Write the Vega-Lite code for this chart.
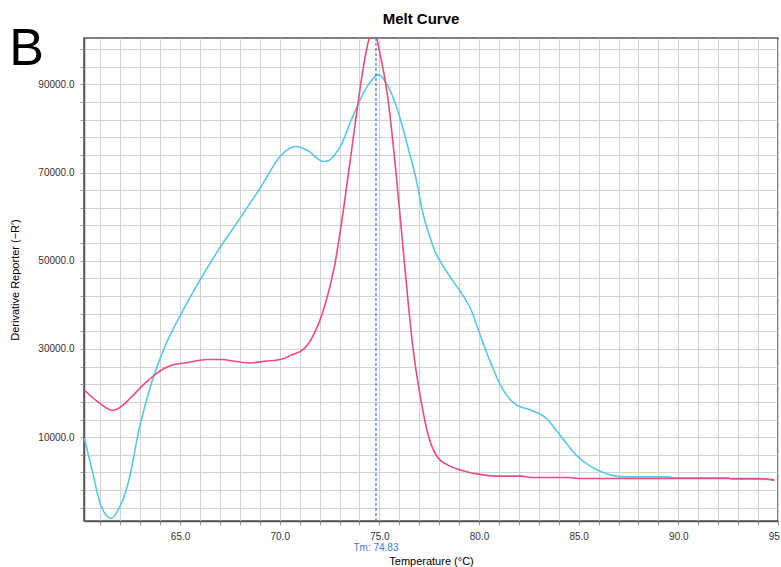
{
  "$schema": "https://vega.github.io/schema/vega-lite/v6.json",
  "width": 694,
  "height": 483,
  "autosize": {"type": "none"},
  "padding": {"left": 84, "top": 38, "right": 3, "bottom": 46},
  "background": "white",
  "title": {"text": "Melt Curve", "fontSize": 15, "fontWeight": "bold", "font": "Liberation Sans", "anchor": "middle", "offset": -4, "color": "#000", "dx": -10},
  "config": {
    "font": "Liberation Sans",
    "view": {"stroke": "#555", "strokeWidth": 1.5},
    "axis": {"gridColor": "#d2d2d2", "gridWidth": 1, "domainColor": "#555", "domainWidth": 1.5, "tickColor": "#999", "tickSize": 4, "labelColor": "#333", "labelFontSize": 10, "titleFontSize": 11, "titleFontWeight": "normal", "titleColor": "#000"}
  },
  "datasets": {
    "curves": [
      {"well": "cyan", "t": 60.2, "v": 9800},
      {"well": "cyan", "t": 60.6, "v": 2200},
      {"well": "cyan", "t": 61.05, "v": -5800},
      {"well": "cyan", "t": 61.55, "v": -8400},
      {"well": "cyan", "t": 61.97, "v": -5800},
      {"well": "cyan", "t": 62.39, "v": -490},
      {"well": "cyan", "t": 62.97, "v": 12330},
      {"well": "cyan", "t": 63.56, "v": 22160},
      {"well": "cyan", "t": 64.23, "v": 30450},
      {"well": "cyan", "t": 65.0, "v": 37500},
      {"well": "cyan", "t": 66.05, "v": 46000},
      {"well": "cyan", "t": 66.91, "v": 52350},
      {"well": "cyan", "t": 68.05, "v": 59900},
      {"well": "cyan", "t": 69.05, "v": 66700},
      {"well": "cyan", "t": 70.06, "v": 73870},
      {"well": "cyan", "t": 70.56, "v": 75600},
      {"well": "cyan", "t": 70.82, "v": 75900},
      {"well": "cyan", "t": 71.4, "v": 75000},
      {"well": "cyan", "t": 72.2, "v": 72500},
      {"well": "cyan", "t": 72.49, "v": 72800},
      {"well": "cyan", "t": 72.74, "v": 73900},
      {"well": "cyan", "t": 73.08, "v": 76200},
      {"well": "cyan", "t": 73.58, "v": 81800},
      {"well": "cyan", "t": 74.42, "v": 89700},
      {"well": "cyan", "t": 74.95, "v": 92200},
      {"well": "cyan", "t": 75.42, "v": 89700},
      {"well": "cyan", "t": 75.92, "v": 84060},
      {"well": "cyan", "t": 76.43, "v": 75750},
      {"well": "cyan", "t": 76.93, "v": 66700},
      {"well": "cyan", "t": 77.1, "v": 62500},
      {"well": "cyan", "t": 77.6, "v": 54500},
      {"well": "cyan", "t": 77.85, "v": 51500},
      {"well": "cyan", "t": 78.1, "v": 49500},
      {"well": "cyan", "t": 78.6, "v": 46000},
      {"well": "cyan", "t": 79.02, "v": 43300},
      {"well": "cyan", "t": 79.61, "v": 38770},
      {"well": "cyan", "t": 80.03, "v": 33490},
      {"well": "cyan", "t": 80.53, "v": 27440},
      {"well": "cyan", "t": 81.12, "v": 21390},
      {"well": "cyan", "t": 81.78, "v": 17630},
      {"well": "cyan", "t": 82.62, "v": 16100},
      {"well": "cyan", "t": 83.29, "v": 14600},
      {"well": "cyan", "t": 84.13, "v": 10070},
      {"well": "cyan", "t": 84.88, "v": 5900},
      {"well": "cyan", "t": 85.63, "v": 3270},
      {"well": "cyan", "t": 86.13, "v": 2140},
      {"well": "cyan", "t": 86.62, "v": 1400},
      {"well": "cyan", "t": 87.27, "v": 1000},
      {"well": "cyan", "t": 89.49, "v": 1000},
      {"well": "cyan", "t": 89.73, "v": 780},
      {"well": "cyan", "t": 92.5, "v": 780},
      {"well": "cyan", "t": 92.65, "v": 490},
      {"well": "cyan", "t": 94.0, "v": 490},
      {"well": "cyan", "t": 94.78, "v": 260},
      {"well": "pink", "t": 60.21, "v": 20650},
      {"well": "pink", "t": 60.88, "v": 18000},
      {"well": "pink", "t": 61.63, "v": 16100},
      {"well": "pink", "t": 62.06, "v": 17000},
      {"well": "pink", "t": 62.56, "v": 19100},
      {"well": "pink", "t": 63.14, "v": 21800},
      {"well": "pink", "t": 63.81, "v": 24430},
      {"well": "pink", "t": 64.57, "v": 26300},
      {"well": "pink", "t": 65.24, "v": 26830},
      {"well": "pink", "t": 66.41, "v": 27600},
      {"well": "pink", "t": 67.08, "v": 27600},
      {"well": "pink", "t": 67.75, "v": 27200},
      {"well": "pink", "t": 68.5, "v": 26830},
      {"well": "pink", "t": 69.25, "v": 27200},
      {"well": "pink", "t": 70.18, "v": 27800},
      {"well": "pink", "t": 70.56, "v": 28570},
      {"well": "pink", "t": 71.23, "v": 30090},
      {"well": "pink", "t": 71.73, "v": 33490},
      {"well": "pink", "t": 72.24, "v": 39510},
      {"well": "pink", "t": 72.74, "v": 48570},
      {"well": "pink", "t": 73.24, "v": 62930},
      {"well": "pink", "t": 73.74, "v": 79530},
      {"well": "pink", "t": 74.17, "v": 93120},
      {"well": "pink", "t": 74.5, "v": 100500},
      {"well": "pink", "t": 74.75, "v": 102000},
      {"well": "pink", "t": 75.0, "v": 97650},
      {"well": "pink", "t": 75.42, "v": 87080},
      {"well": "pink", "t": 75.84, "v": 69730},
      {"well": "pink", "t": 76.26, "v": 49340},
      {"well": "pink", "t": 76.68, "v": 30450},
      {"well": "pink", "t": 77.1, "v": 18000},
      {"well": "pink", "t": 77.43, "v": 10830},
      {"well": "pink", "t": 77.85, "v": 5900},
      {"well": "pink", "t": 78.44, "v": 3660},
      {"well": "pink", "t": 79.1, "v": 2530},
      {"well": "pink", "t": 79.94, "v": 1620},
      {"well": "pink", "t": 80.95, "v": 1170},
      {"well": "pink", "t": 82.12, "v": 1170},
      {"well": "pink", "t": 82.62, "v": 870},
      {"well": "pink", "t": 84.47, "v": 870},
      {"well": "pink", "t": 84.97, "v": 650},
      {"well": "pink", "t": 94.03, "v": 650},
      {"well": "pink", "t": 94.83, "v": 260}
    ],
    "tm": [{"tm": 74.83, "label": "Tm: 74.83"}],
    "panel": [{"label": "B"}]
  },
  "layer": [
    {
      "data": {"name": "curves"},
      "mark": {"type": "line", "interpolate": "monotone", "strokeWidth": 1.6, "clip": true},
      "encoding": {
        "x": {
          "field": "t", "type": "quantitative",
          "scale": {"domain": [60.18, 95.0], "nice": false, "zero": false},
          "axis": {
            "title": "Temperature (°C)",
            "values": [61,62,63,64,65,66,67,68,69,70,71,72,73,74,75,76,77,78,79,80,81,82,83,84,85,86,87,88,89,90,91,92,93,94,95],
            "tickCount": 100,
            "labelExpr": "datum.value % 5 == 0 ? format(datum.value, '.1f') : ''",
            "labelBound": false, "labelFlush": false, "labelOverlap": false,
            "labelPadding": 6, "titlePadding": 14
          }
        },
        "y": {
          "field": "v", "type": "quantitative",
          "scale": {"domain": [-9000, 100500], "nice": false, "zero": false},
          "axis": {
            "title": "Derivative Reporter (−R′)",
            "values": [-6000,-2000,2000,6000,10000,14000,18000,22000,26000,30000,34000,38000,42000,46000,50000,54000,58000,62000,66000,70000,74000,78000,82000,86000,90000,94000,98000],
            "tickCount": 100,
            "labelExpr": "datum.value % 20000 == 10000 ? format(datum.value, '.1f') : ''",
            "labelOverlap": false, "labelPadding": 6, "titlePadding": 17
          }
        },
        "color": {
          "field": "well", "type": "nominal",
          "scale": {"domain": ["pink", "cyan"], "range": ["#ec4b7d", "#57c6ea"]},
          "legend": null
        }
      }
    },
    {
      "data": {"name": "tm"},
      "mark": {"type": "rule", "color": "#3b72e6", "strokeDash": [3, 2], "strokeWidth": 1.2},
      "encoding": {
        "x": {"field": "tm", "type": "quantitative"}
      }
    },
    {
      "data": {"name": "tm"},
      "mark": {"type": "text", "color": "#3b78e0", "fontSize": 10, "align": "center", "baseline": "alphabetic"},
      "encoding": {
        "x": {"field": "tm", "type": "quantitative"},
        "y": {"datum": -15800},
        "text": {"field": "label"}
      }
    },
    {
      "data": {"name": "panel"},
      "mark": {"type": "text", "color": "#000", "fontSize": 52, "align": "center", "baseline": "alphabetic", "font": "Liberation Sans"},
      "encoding": {
        "x": {"datum": 57.3},
        "y": {"datum": 94300},
        "text": {"field": "label"}
      }
    }
  ]
}
